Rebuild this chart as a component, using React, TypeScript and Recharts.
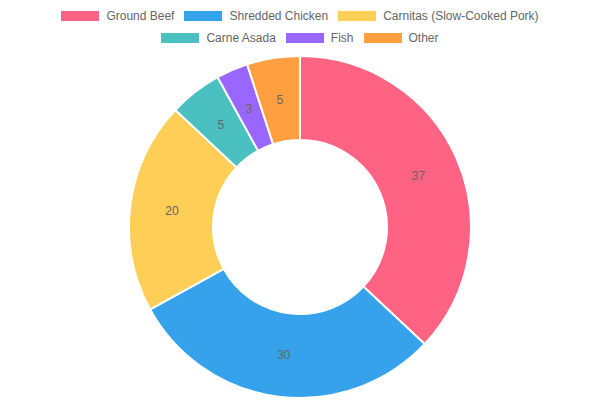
import React from 'react';
import { PieChart, Pie, Cell } from 'recharts';

const fillings = ['Ground Beef', 'Shredded Chicken', 'Carnitas (Slow-Cooked Pork)', 'Carne Asada', 'Fish', 'Other'];
const shares = [37, 30, 20, 5, 3, 5];
const colors = ['#FF6384', '#36A2EB', '#FFCE56', '#4BC0C0', '#9966FF', '#FF9F40'];
const legendRows = [[0, 1, 2], [3, 4, 5]];

const data = fillings.map((name, i) => ({ name, value: shares[i] }));

const FONT = '"Liberation Sans", Arial, Helvetica, sans-serif';
const RAD = Math.PI / 180;

function renderLabel(props: any) {
  const { cx, cy, midAngle, innerRadius, outerRadius, value } = props;
  const r = (innerRadius + outerRadius) / 2;
  const x = cx + r * Math.cos(-midAngle * RAD);
  const y = cy + r * Math.sin(-midAngle * RAD);
  return (
    <text x={x} y={y} fill="#666" fontSize={12} fontFamily={FONT} textAnchor="middle" dominantBaseline="central">
      {value}
    </text>
  );
}

function LegendRows() {
  return (
    <div style={{ position: 'absolute', left: 0, top: 5, width: 600, fontFamily: FONT, fontSize: 12, color: '#666' }}>
      {legendRows.map((row, ri) => (
        <div key={ri} style={{ display: 'flex', justifyContent: 'center', height: 22, alignItems: 'center' }}>
          {row.map((i) => (
            <div key={i} style={{ display: 'flex', alignItems: 'center', margin: '0 5px' }}>
              <span style={{ display: 'inline-block', width: 38, height: 10, background: colors[i], marginRight: 7 }} />
              <span>{fillings[i]}</span>
            </div>
          ))}
        </div>
      ))}
    </div>
  );
}

export default function App() {
  return (
    <div style={{ position: 'absolute', left: 0, top: 0, width: 600, height: 400, background: '#fff' }}>
      <LegendRows />
      <div style={{ position: 'absolute', left: 0, top: 0 }}>
        <PieChart width={600} height={400} margin={{ top: 0, right: 0, bottom: 0, left: 0 }}>
          <Pie
            data={data}
            dataKey="value"
            nameKey="name"
            cx={300}
            cy={227}
            innerRadius={87}
            outerRadius={171}
            startAngle={90}
            endAngle={-270}
            stroke="#fff"
            strokeWidth={2}
            label={renderLabel}
            labelLine={false}
            isAnimationActive={false}
          >
            {data.map((d, i) => (
              <Cell key={d.name} fill={colors[i]} />
            ))}
          </Pie>
        </PieChart>
      </div>
    </div>
  );
}
